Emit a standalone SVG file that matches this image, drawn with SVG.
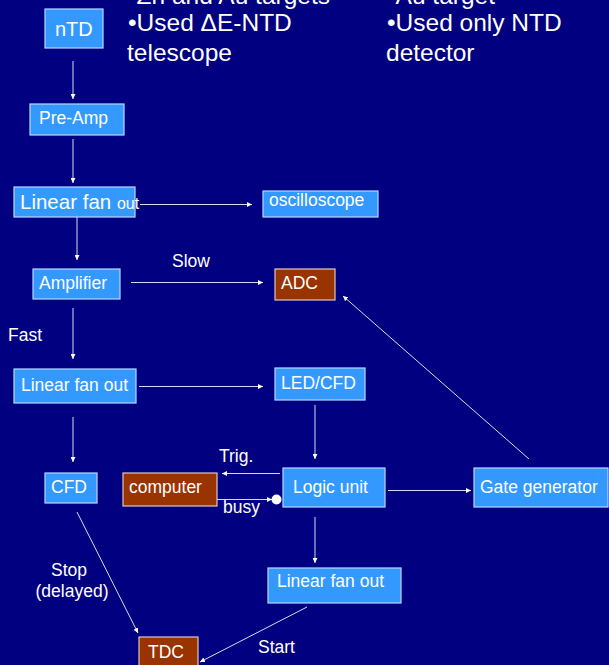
<svg xmlns="http://www.w3.org/2000/svg" width="609" height="665" viewBox="0 0 609 665">
<defs>
<style>
.bg{fill:#000080}
.blue{fill:#3399ff;stroke:#b8d8ff;stroke-width:1.2}
.brown{fill:#993300;stroke:#e0c8c0;stroke-width:1.2}
.t{font-family:"Liberation Sans",Arial,sans-serif;font-size:17.5px;fill:#ffffff}
.big{font-family:"Liberation Sans",Arial,sans-serif;font-size:24.5px;fill:#ffffff}
.c line{stroke:#d8d8f4;stroke-width:1;marker-end:url(#ah)}
</style>
<marker id="ah" viewBox="0 0 6 6" refX="6" refY="3" markerWidth="5" markerHeight="5" markerUnits="userSpaceOnUse" orient="auto">
<path d="M0,0 L6,3 L0,6 z" fill="#ffffff"/>
</marker>
</defs>
<rect class="bg" x="0" y="0" width="609" height="665"/>

<g id="notes">
<text class="big" x="128" y="3.5">•Zn and Au targets</text>
<text class="big" x="128" y="31">•Used ΔE-NTD</text>
<text class="big" x="127" y="61">telescope</text>
<text class="big" x="387" y="3.5">•Au target</text>
<text class="big" x="387" y="31">•Used only NTD</text>
<text class="big" x="386" y="61">detector</text>
</g>

<g id="connectors" class="c">
<line x1="73" y1="61" x2="73" y2="99"/>
<line x1="73" y1="139" x2="73" y2="183"/>
<line x1="140" y1="204.5" x2="252" y2="204.5"/>
<line x1="77" y1="217" x2="77" y2="260"/>
<line x1="131" y1="282.5" x2="263" y2="282.5"/>
<line x1="73" y1="308" x2="73" y2="359"/>
<line x1="139" y1="386.5" x2="263" y2="386.5"/>
<line x1="73" y1="417" x2="73" y2="462"/>
<line x1="315" y1="405" x2="315" y2="459"/>
<line x1="280" y1="473.5" x2="222" y2="473.5"/>
<line x1="217" y1="499.5" x2="272" y2="499.5"/>
<line x1="388" y1="490.5" x2="471" y2="490.5"/>
<line x1="529" y1="459" x2="343" y2="296"/>
<line x1="315" y1="517" x2="315" y2="563"/>
<line x1="307" y1="607" x2="200" y2="662"/>
<line x1="77" y1="512" x2="138" y2="633"/>
<circle cx="276.5" cy="499.5" r="5" fill="#ffffff"/>
</g>

<g id="labels">
<text class="t" x="172" y="267">Slow</text>
<text class="t" x="8" y="341">Fast</text>
<text class="t" x="219" y="462">Trig.</text>
<text class="t" x="223" y="513">busy</text>
<text class="t" x="69" y="576" text-anchor="middle">Stop</text>
<text class="t" x="72" y="597" text-anchor="middle">(delayed)</text>
<text class="t" x="258" y="653">Start</text>
</g>

<g id="nTD"><rect class="blue" x="45" y="9" width="58" height="39"/><text class="t" x="55" y="36" style="font-size:20px">nTD</text></g>
<g id="preamp"><rect class="blue" x="30" y="104" width="94" height="31"/><text class="t" x="39" y="124">Pre-Amp</text></g>
<g id="lfo1"><rect class="blue" x="14" y="187" width="121" height="30"/><text class="t" x="20" y="209" style="font-size:20.5px">Linear fan <tspan style="font-size:16px">out</tspan></text></g>
<g id="oscilloscope"><rect class="blue" x="263" y="191" width="115" height="26"/><text class="t" x="269" y="206">oscilloscope</text></g>
<g id="amplifier"><rect class="blue" x="33" y="269" width="87" height="30"/><text class="t" x="39" y="289">Amplifier</text></g>
<g id="adc"><rect class="brown" x="275" y="269" width="60" height="31"/><text class="t" x="281" y="289">ADC</text></g>
<g id="lfo2"><rect class="blue" x="14" y="369" width="122" height="34"/><text class="t" x="21" y="391">Linear fan out</text></g>
<g id="ledcfd"><rect class="blue" x="275" y="368" width="90" height="32"/><text class="t" x="281" y="389">LED/CFD</text></g>
<g id="cfd"><rect class="blue" x="45" y="473" width="52" height="30"/><text class="t" x="51" y="493">CFD</text></g>
<g id="computer"><rect class="brown" x="123" y="473" width="94" height="33"/><text class="t" x="129" y="493">computer</text></g>
<g id="logic"><rect class="blue" x="283" y="468" width="102" height="39"/><text class="t" x="293" y="493">Logic unit</text></g>
<g id="gate"><rect class="blue" x="474" y="468" width="134" height="39"/><text class="t" x="480" y="493">Gate generator</text></g>
<g id="lfo3"><rect class="blue" x="268" y="568" width="133" height="35"/><text class="t" x="277" y="587">Linear fan out</text></g>
<g id="tdc"><rect class="brown" x="139" y="637" width="59" height="35"/><text class="t" x="148" y="658">TDC</text></g>
</svg>
